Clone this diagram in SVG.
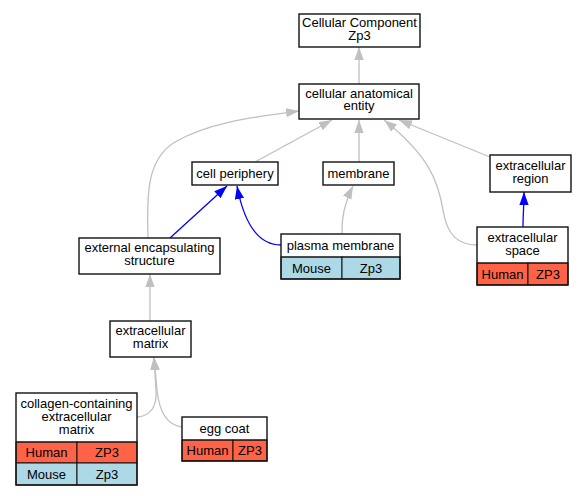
<svg xmlns="http://www.w3.org/2000/svg" width="587" height="496" viewBox="0 0 587 496">
<style>
text{font-family:"Liberation Sans",Arial,sans-serif;font-size:13px;fill:#000;text-anchor:middle}
.box{fill:#fff;stroke:#111;stroke-width:1.4}
.cell{stroke:#111;stroke-width:1}
.h{fill:#ff6347}
.m{fill:#add8e6}
.g{fill:none;stroke:#c0c0c0;stroke-width:1.3}
.b{fill:none;stroke:#0000ff;stroke-width:1.3}
</style>
<defs>
<marker id="ag" markerUnits="userSpaceOnUse" markerWidth="13" markerHeight="10" refX="13" refY="4.65" orient="auto"><path d="M0,0 L13,4.65 L0,9.3 z" fill="#c0c0c0"/></marker>
<marker id="ab" markerUnits="userSpaceOnUse" markerWidth="13" markerHeight="10" refX="13" refY="4.65" orient="auto"><path d="M0,0 L13,4.65 L0,9.3 z" fill="#0000ff"/></marker>
</defs>
<rect width="587" height="496" fill="#fff"/>
<g id="connectors">
<path class="g" marker-end="url(#ag)" d="M359,84 L359,47"/>
<path class="g" marker-end="url(#ag)" d="M255,162 L332,120"/>
<path class="g" marker-end="url(#ag)" d="M359,162 L359,120"/>
<path class="g" marker-end="url(#ag)" d="M148,238 C147,200 145,160 175,142 C210,122 255,117 299,111"/>
<path class="g" marker-end="url(#ag)" d="M477,245 C458,245 447,235 443,210 C438,180 428,155 384,120"/>
<path class="g" marker-end="url(#ag)" d="M490,157 L399,120"/>
<path class="b" marker-end="url(#ab)" d="M170,238 L227,186"/>
<path class="b" marker-end="url(#ab)" d="M281,245 C260,245 245,228 237,186"/>
<path class="g" marker-end="url(#ag)" d="M342,234 C341,215 346,200 353,186"/>
<path class="b" marker-end="url(#ab)" d="M523,227 C523,215 524,205 524,192"/>
<path class="g" marker-end="url(#ag)" d="M150,321 L150,274"/>
<path class="g" marker-end="url(#ag)" d="M137,417 C152,416 157,405 156,390 L154,357"/>
<path class="g" marker-end="url(#ag)" d="M182,427 C166,425 159,410 157,390 L154,357"/>
</g>
<g id="cellular_component">
<rect class="box" x="299" y="14" width="121" height="33"/>
<text x="359.5" y="27">Cellular Component</text>
<text x="359.5" y="39.5">Zp3</text>
</g>
<g id="cellular_anatomical_entity">
<rect class="box" x="299" y="84" width="120" height="35"/>
<text x="359" y="97.5">cellular anatomical</text>
<text x="359" y="110">entity</text>
</g>
<g id="cell_periphery">
<rect class="box" x="192" y="162" width="86" height="23"/>
<text x="235" y="177.5">cell periphery</text>
</g>
<g id="membrane">
<rect class="box" x="323" y="162" width="71" height="23"/>
<text x="358.5" y="177.5">membrane</text>
</g>
<g id="extracellular_region">
<rect class="box" x="490" y="155" width="81" height="37"/>
<text x="530.5" y="169.5">extracellular</text>
<text x="530.5" y="182.5">region</text>
</g>
<g id="external_encapsulating_structure">
<rect class="box" x="79" y="238" width="141" height="36"/>
<text x="149.5" y="252">external encapsulating</text>
<text x="149.5" y="265">structure</text>
</g>
<g id="plasma_membrane">
<rect x="281" y="257" width="61" height="22" class="cell m"/>
<rect x="342" y="257" width="58" height="22" class="cell m"/>
<rect class="box" x="281" y="234" width="119" height="45" style="fill:none"/>
<line class="cell" x1="281" y1="257" x2="400" y2="257"/>
<text x="340.5" y="250">plasma membrane</text>
<text x="311.5" y="272.5">Mouse</text>
<text x="371" y="272.5">Zp3</text>
</g>
<g id="extracellular_space">
<rect x="477" y="263" width="51" height="22" class="cell h"/>
<rect x="528" y="263" width="40" height="22" class="cell h"/>
<rect class="box" x="477" y="227" width="91" height="58" style="fill:none"/>
<line class="cell" x1="477" y1="263" x2="568" y2="263"/>
<text x="522.5" y="241.5">extracellular</text>
<text x="522.5" y="254.5">space</text>
<text x="502.5" y="278.5">Human</text>
<text x="548" y="278.5">ZP3</text>
</g>
<g id="extracellular_matrix">
<rect class="box" x="110" y="321" width="81" height="36"/>
<text x="150.5" y="335">extracellular</text>
<text x="150.5" y="348">matrix</text>
</g>
<g id="collagen_containing_extracellular_matrix">
<rect x="16" y="442" width="61" height="21" class="cell h"/>
<rect x="77" y="442" width="60" height="21" class="cell h"/>
<rect x="16" y="463" width="61" height="22" class="cell m"/>
<rect x="77" y="463" width="60" height="22" class="cell m"/>
<rect class="box" x="16" y="393" width="121" height="92" style="fill:none"/>
<line class="cell" x1="16" y1="442" x2="137" y2="442"/>
<text x="76.5" y="407.5">collagen-containing</text>
<text x="76.5" y="420.5">extracellular</text>
<text x="76.5" y="433.5">matrix</text>
<text x="46.5" y="457">Human</text>
<text x="107" y="457">ZP3</text>
<text x="46.5" y="478.5">Mouse</text>
<text x="107" y="478.5">Zp3</text>
</g>
<g id="egg_coat">
<rect x="182" y="440" width="51" height="21" class="cell h"/>
<rect x="233" y="440" width="34" height="21" class="cell h"/>
<rect class="box" x="182" y="417" width="85" height="44" style="fill:none"/>
<line class="cell" x1="182" y1="440" x2="267" y2="440"/>
<text x="224.5" y="432.5">egg coat</text>
<text x="207.5" y="455">Human</text>
<text x="250" y="455">ZP3</text>
</g>
</svg>
